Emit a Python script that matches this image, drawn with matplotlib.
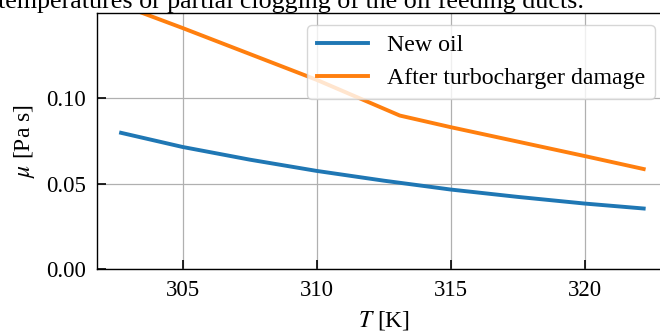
import matplotlib
matplotlib.use("Agg")
import matplotlib.pyplot as plt

plt.rcParams.update({
    "font.family": "serif",
    "font.serif": ["Liberation Serif", "DejaVu Serif"],
    "mathtext.fontset": "stix",
    "font.size": 16.5,
})

# Viscosity of the engine oil versus temperature
temp_new = [302.7, 305.0, 307.5, 310.0, 312.5, 315.0, 317.5, 320.0, 322.2]
mu_new = [0.0797, 0.0714, 0.0640, 0.0574, 0.0517, 0.0465, 0.0422, 0.0383, 0.0354]

temp_damaged = [302.7, 305.0, 310.0, 313.1, 315.0, 320.0, 322.2]
mu_damaged = [0.1545, 0.1410, 0.1107, 0.0898, 0.0830, 0.0661, 0.0585]

x_ticks = [305, 310, 315, 320]
y_ticks = [0.00, 0.05, 0.10]

W, H = 660, 332
fig = plt.figure(figsize=(W / 100, H / 100), dpi=100)

left_px, bottom_px, top_px = 96.7, 269.0, 12.7
xlim = (301.79, 323.2)
px_per_k = 26.8
width_px = (xlim[1] - xlim[0]) * px_per_k
ax = fig.add_axes([left_px / W, 1 - bottom_px / H, width_px / W, (bottom_px - top_px) / H])

ax.plot(temp_new, mu_new, color="#1f77b4", lw=2.8, label="New oil")
ax.plot(temp_damaged, mu_damaged, color="#ff7f0e", lw=2.8, label="After turbocharger damage")

ax.set_xlim(*xlim)
ax.set_ylim(0, 0.15)
ax.set_xticks(x_ticks)
ax.set_yticks(y_ticks)
ax.set_yticklabels([f"{v:.2f}" for v in y_ticks])
ax.tick_params(direction="in", length=6.5, width=1.2, labelsize=16.5, pad=8)
ax.grid(True, color="#b0b0b0", lw=0.9)
for s in ax.spines.values():
    s.set_linewidth(1.0)

ax.set_xlabel("$T$ [K]", fontsize=17, labelpad=6)
ax.set_ylabel(r"$\mu$ [Pa s]", fontsize=17, labelpad=6)

ax.legend(loc="upper right", bbox_to_anchor=(655 / W, 1 - 25 / H),
          bbox_transform=fig.transFigure, borderaxespad=0, fontsize=17.2,
          handlelength=2.15, labelspacing=0.48, framealpha=0.8, edgecolor="#cccccc")

fig.text(-0.003, 1 - 8 / H, "temperatures or partial clogging of the oil feeding ducts.",
         fontsize=18.7, va="baseline", ha="left")

fig.savefig("out.png", dpi=100)
